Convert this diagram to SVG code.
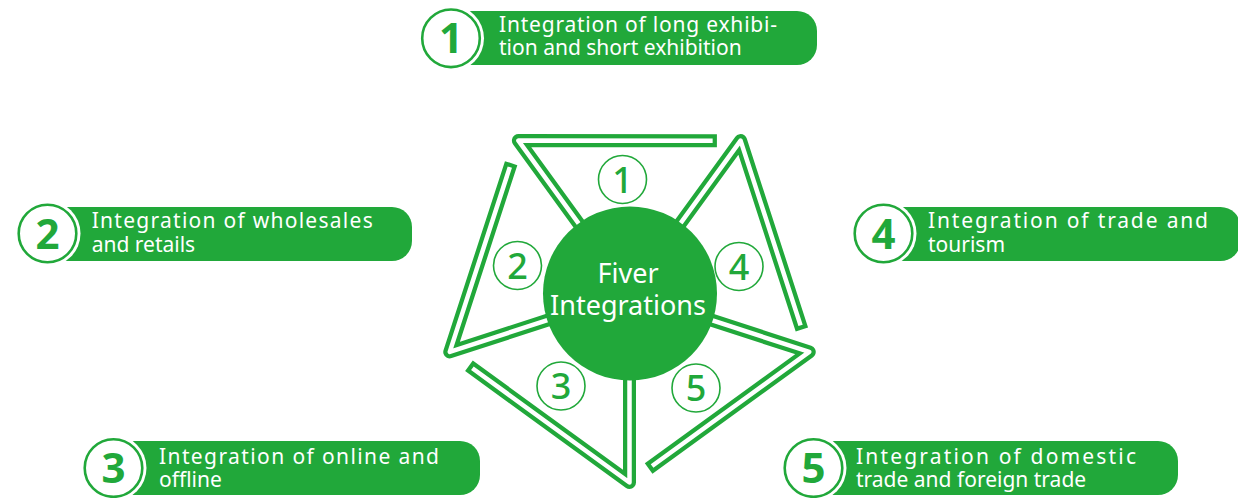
<svg xmlns="http://www.w3.org/2000/svg" xmlns:xlink="http://www.w3.org/1999/xlink" width="1238" height="498" viewBox="0 0 1238 498">
  <style>
    .g-out { fill: none; stroke: #21a83a; stroke-width: 13; stroke-linejoin: round; stroke-linecap: square; }
    .g-in { fill: none; stroke: #ffffff; stroke-width: 4.5; stroke-linejoin: round; stroke-linecap: square; }
    .pill { fill: #21a83a; }
    .halo { fill: #ffffff; }
    .badge { fill: #ffffff; stroke: #21a83a; stroke-width: 2.6; }
    .badge-num { font-family: "Noto Sans", "Liberation Sans", sans-serif; font-weight: 700; font-size: 42px; fill: #21a83a; text-anchor: middle; }
    .label { font-family: "Noto Sans", "Liberation Sans", sans-serif; font-size: 21px; fill: #ffffff; }
    .mini { fill: #ffffff; stroke: #21a83a; stroke-width: 1.6; }
    .mini-num { font-family: "Noto Sans", "Liberation Sans", sans-serif; font-weight: 500; font-size: 36px; fill: #21a83a; text-anchor: middle; }
    .hub { fill: #21a83a; }
    .hub-text { font-family: "Noto Sans", "Liberation Sans", sans-serif; font-size: 27px; fill: #ffffff; text-anchor: middle; }
  </style>
  <defs>
    <path id="hook" d="M0,0 L0,189 L-155.3,76.1"/>
  </defs>

  <g id="pinwheel">
    <g id="hook-1" transform="translate(629.5 293.5) rotate(144)">
      <use xlink:href="#hook" class="g-out"/><use xlink:href="#hook" class="g-in"/>
    </g>
    <g id="hook-2" transform="translate(629.5 293.5) rotate(72)">
      <use xlink:href="#hook" class="g-out"/><use xlink:href="#hook" class="g-in"/>
    </g>
    <g id="hook-3" transform="translate(629.5 293.5)">
      <use xlink:href="#hook" class="g-out"/><use xlink:href="#hook" class="g-in"/>
    </g>
    <g id="hook-4" transform="translate(629.5 293.5) rotate(216)">
      <use xlink:href="#hook" class="g-out"/><use xlink:href="#hook" class="g-in"/>
    </g>
    <g id="hook-5" transform="translate(629.5 293.5) rotate(288)">
      <use xlink:href="#hook" class="g-out"/><use xlink:href="#hook" class="g-in"/>
    </g>
  </g>

  <g id="hub">
    <circle class="hub" cx="630" cy="293.5" r="87"/>
    <text class="hub-text" x="628" y="283">Fiver</text>
    <text class="hub-text" x="628" y="315">Integrations</text>
  </g>

  <g id="mini-1"><circle class="mini" cx="622.5" cy="179.5" r="24"/><text class="mini-num" x="622.5" y="192.5">1</text></g>
  <g id="mini-2"><circle class="mini" cx="517.5" cy="265.5" r="24"/><text class="mini-num" x="517.5" y="278.5">2</text></g>
  <g id="mini-3"><circle class="mini" cx="561" cy="386" r="24"/><text class="mini-num" x="561" y="399">3</text></g>
  <g id="mini-4"><circle class="mini" cx="739" cy="266.5" r="24"/><text class="mini-num" x="739" y="279.5">4</text></g>
  <g id="mini-5"><circle class="mini" cx="696" cy="388" r="24"/><text class="mini-num" x="696" y="401">5</text></g>

  <g id="label-1">
    <rect class="pill" x="451" y="11" width="366" height="54" rx="20"/>
    <circle class="halo" cx="451" cy="38.3" r="33"/>
    <circle class="badge" cx="451" cy="38.3" r="28.8"/>
    <text class="badge-num" x="451" y="53">1</text>
    <text class="label" x="499" y="31.7" textLength="278" lengthAdjust="spacing">Integration of long exhibi-</text>
    <text class="label" x="499" y="55">tion and short exhibition</text>
  </g>

  <g id="label-2">
    <rect class="pill" x="47.5" y="207" width="364.5" height="54" rx="20"/>
    <circle class="halo" cx="47.5" cy="233.5" r="33"/>
    <circle class="badge" cx="47.5" cy="233.5" r="28.8"/>
    <text class="badge-num" x="47.5" y="248.5">2</text>
    <text class="label" x="91.7" y="228" textLength="281" lengthAdjust="spacing">Integration of wholesales</text>
    <text class="label" x="91.7" y="251.7">and retails</text>
  </g>

  <g id="label-3">
    <rect class="pill" x="113.5" y="441" width="366.5" height="54" rx="20"/>
    <circle class="halo" cx="113.5" cy="468" r="33"/>
    <circle class="badge" cx="113.5" cy="468" r="28.8"/>
    <text class="badge-num" x="113.5" y="483">3</text>
    <text class="label" x="159" y="463.5" textLength="280" lengthAdjust="spacing">Integration of online and</text>
    <text class="label" x="159" y="487">offline</text>
  </g>

  <g id="label-4">
    <rect class="pill" x="883.5" y="207" width="357" height="54" rx="20"/>
    <circle class="halo" cx="883.5" cy="233.5" r="33"/>
    <circle class="badge" cx="883.5" cy="233.5" r="28.8"/>
    <text class="badge-num" x="883.5" y="248.5">4</text>
    <text class="label" x="928" y="228" textLength="280" lengthAdjust="spacing">Integration of trade and</text>
    <text class="label" x="928" y="251.7">tourism</text>
  </g>

  <g id="label-5">
    <rect class="pill" x="813.5" y="441" width="364.5" height="54" rx="20"/>
    <circle class="halo" cx="813.5" cy="468" r="33"/>
    <circle class="badge" cx="813.5" cy="468" r="28.8"/>
    <text class="badge-num" x="813.5" y="483">5</text>
    <text class="label" x="856" y="463.5" textLength="280" lengthAdjust="spacing">Integration of domestic</text>
    <text class="label" x="856" y="487">trade and foreign trade</text>
  </g>
</svg>
